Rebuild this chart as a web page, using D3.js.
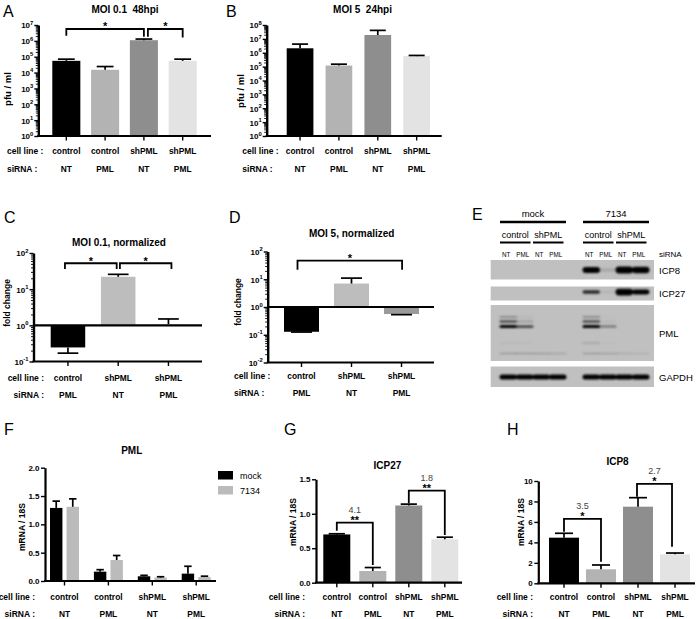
<!DOCTYPE html>
<html><head><meta charset="utf-8">
<script src="https://cdn.jsdelivr.net/npm/d3@7"></script>
<style>
body{margin:0;background:#fff;}
svg{display:block;}
text{white-space:pre;}
</style></head><body>
<svg id="fig" width="696" height="619"></svg>
<script>
// ---------------- DATA ----------------
const cellLines4 = ["control", "control", "shPML", "shPML"];
const siRNA4 = ["NT", "PML", "NT", "PML"];
const cellLines3 = ["control", "shPML", "shPML"];
const siRNA3 = ["PML", "NT", "PML"];

// A: MOI 0.1 48hpi (pfu/ml), mean and top of error bar
const aValues = [5.5e4, 1.5e4, 1.1e6, 5.5e4];
const aErrTop = [7.0e4, 2.4e4, 1.3e6, 7.0e4];
// B: MOI 5 24hpi
const bValues = [2.1e6, 1.2e5, 1.9e7, 5.7e5];
const bErrTop = [4.2e6, 1.5e5, 4.1e7, 6.4e5];
// C: MOI 0.1 normalized (fold change)
const cValues = [0.245, 22, 1.07];
const cErrEnd = [0.17, 25.7, 1.5];
// D: MOI 5 normalized
const dValues = [0.128, 7, 0.56];
const dErrEnd = [0.125, 11, 0.53];
// F: PML mRNA / 18S
const fSeries = ["mock", "7134"];
const fMock = [1.29, 0.165, 0.083, 0.13];
const fMockErr = [1.41, 0.2, 0.1, 0.26];
const f7134 = [1.31, 0.37, 0.06, 0.07];
const f7134Err = [1.45, 0.45, 0.075, 0.085];
// G: ICP27 mRNA / 18S
const gValues = [0.70, 0.17, 1.12, 0.63];
const gErrTop = [0.71, 0.22, 1.14, 0.66];
// H: ICP8 mRNA / 18S
const hValues = [4.46, 1.37, 7.49, 2.83];
const hErrTop = [4.89, 1.79, 8.37, 2.96];
// fold-change annotations
const gFold = ["4.1", "1.8"];
const gSig = ["**", "**"];
const hFold = ["3.5", "2.7"];
const hSig = ["*", "*"];

// E: western blot
const blotInfection = ["mock", "7134"];
const blotCell = ["control", "shPML"];
const blotSiRNA = ["NT", "PML"];
const blotRows = ["ICP8", "ICP27", "PML", "GAPDH"];
const bandICP8 = [0, 0, 0, 0, 1.0, 0.12, 1.15, 1.05];
const bandICP27 = [0, 0, 0, 0, 0.8, 0.06, 1.5, 1.1];
const bandPML1 = [0.55, 0.1, 0, 0, 0.55, 0.05, 0, 0];
const bandPML2 = [0.75, 0.25, 0, 0, 0.75, 0.08, 0, 0];
const bandPML3 = [1.0, 0.75, 0, 0, 1.0, 0.45, 0, 0];
const bandPML4 = [0.08, 0.06, 0, 0, 0.25, 0.03, 0, 0];
const bandPML5 = [0.3, 0.3, 0.28, 0.22, 0.3, 0.25, 0.18, 0.12];
const bandGAPDH = [1, 1, 1, 1, 1, 1, 1, 1];

// ---------------- STYLE ----------------
const FONT = "'Liberation Sans', Arial, Helvetica, sans-serif";
const PAL4 = ["#000000", "#b3b3b3", "#8e8e8e", "#e3e3e3"];
const PALC = ["#000000", "#bdbdbd", "#f0f0f0"];
const PALD = ["#000000", "#bdbdbd", "#9a9a9a"];
const PALF = ["#000000", "#bbbbbb"];

const svg = d3.select("#fig").attr("font-family", FONT);
svg.append("defs").append("filter").attr("id", "blur")
  .attr("x", "-20%").attr("y", "-50%").attr("width", "140%").attr("height", "200%")
  .append("feGaussianBlur").attr("stdDeviation", 0.9);

function txt(g, x, y, s, o = {}) {
  return g.append("text").attr("x", x).attr("y", y)
    .attr("text-anchor", o.anchor || "middle")
    .attr("font-size", o.size || 9)
    .attr("font-weight", o.weight || "bold")
    .attr("fill", o.fill || "#000")
    .attr("transform", o.rotate ? `rotate(-90,${x},${y})` : null)
    .text(s);
}

function panelLetter(x, y, s) { txt(svg, x, y, s, {anchor: "start", size: 16, weight: "normal"}); }

function logYAxis(g, y, ax, lo, hi) {
  const majors = d3.range(lo, hi + 1).map(k => Math.pow(10, k));
  const minors = d3.range(lo, hi).flatMap(k => d3.range(2, 10).map(m => m * Math.pow(10, k)));
  const gm = g.append("g").attr("transform", `translate(${ax},0)`)
    .call(d3.axisLeft(y).tickValues(minors).tickSize(2.5).tickSizeOuter(0).tickFormat(""));
  gm.select(".domain").remove();
  gm.selectAll(".tick line").attr("stroke", "#000").attr("stroke-width", 0.9);
  const gM = g.append("g").attr("transform", `translate(${ax},0)`)
    .call(d3.axisLeft(y).tickValues(majors).tickSize(4).tickSizeOuter(0).tickFormat(""));
  gM.select(".domain").attr("stroke", "#000").attr("stroke-width", 2.4);
  gM.selectAll(".tick line").attr("stroke", "#000").attr("stroke-width", 1.4);
  gM.selectAll(".tick").each(function (d) {
    const e = Math.round(Math.log10(d));
    const t = d3.select(this).append("text").attr("x", -5).attr("dy", "0.36em")
      .attr("text-anchor", "end").attr("font-size", 8).attr("font-weight", "bold").attr("fill", "#000");
    t.append("tspan").text("10");
    t.append("tspan").attr("dy", -3.7).attr("font-size", 5.8).text(e);
  });
}

function linYAxis(g, y, ax, ticks, fmt) {
  const gA = g.append("g").attr("transform", `translate(${ax},0)`)
    .call(d3.axisLeft(y).tickValues(ticks).tickSize(4).tickSizeOuter(0).tickPadding(1.5).tickFormat(d3.format(fmt)));
  gA.select(".domain").attr("stroke", "#000").attr("stroke-width", 2.2);
  gA.selectAll(".tick line").attr("stroke", "#000").attr("stroke-width", 1.4);
  gA.selectAll(".tick text").attr("fill", "#000").attr("font-size", 8).attr("font-weight", "bold").attr("font-family", FONT);
}

function xAxis(g, x, ax, aend, yb) {
  const gx = g.append("g").attr("transform", `translate(0,${yb})`)
    .call(d3.axisBottom(x).tickSize(4.5).tickSizeOuter(0).tickFormat(""));
  gx.select(".domain").remove();
  gx.selectAll(".tick line").attr("stroke", "#000").attr("stroke-width", 1.4);
  g.append("line").attr("x1", ax - 1).attr("x2", aend).attr("y1", yb).attr("y2", yb)
    .attr("stroke", "#000").attr("stroke-width", 2.2);
}

function catLabels(g, xc, cats, sir, rows, lead) {
  txt(g, lead.x, rows[0], "cell line :", {anchor: lead.anchor, size: 8.5});
  txt(g, lead.x, rows[1], "siRNA :", {anchor: lead.anchor, size: 8.5});
  g.selectAll(null).data(cats).join("text")
    .attr("x", (d, i) => xc(i)).attr("y", rows[0]).attr("text-anchor", "middle")
    .attr("font-size", 8.4).attr("font-weight", "bold").text(d => d);
  g.selectAll(null).data(sir).join("text")
    .attr("x", (d, i) => xc(i)).attr("y", rows[1]).attr("text-anchor", "middle")
    .attr("font-size", 8.4).attr("font-weight", "bold").text(d => d);
}

function errorBars(g, xs, w, y, vals, ends, capFrac) {
  vals.forEach((v, i) => {
    const cx = xs(i), cw = w * capFrac;
    g.append("line").attr("x1", cx).attr("x2", cx).attr("y1", y(v)).attr("y2", y(ends[i]))
      .attr("stroke", "#000").attr("stroke-width", 1.7);
    g.append("line").attr("x1", cx - cw / 2).attr("x2", cx + cw / 2).attr("y1", y(ends[i])).attr("y2", y(ends[i]))
      .attr("stroke", "#000").attr("stroke-width", 1.7);
  });
}

function bracket(g, xc, y, b) {
  const x1 = xc(b.i) + (b.dxi || 0), x2 = xc(b.j) + (b.dxj || 0);
  const yt = y(b.top);
  g.append("path").attr("d", `M${x1},${y(b.botL)}V${yt}H${x2}V${y(b.botR)}`)
    .attr("fill", "none").attr("stroke", "#000").attr("stroke-width", 1.8);
  const mx = (x1 + x2) / 2;
  txt(g, mx, yt + 1.5, b.sig, {size: 11});
  if (b.num) txt(g, mx, yt - 9.5, b.num, {size: 9, weight: "normal", fill: "#444"});
}

function barPanel(c) {
  const g = svg.append("g");
  const y = c.log ? d3.scaleLog().domain(c.domain).range([c.yBot, c.yTop])
                  : d3.scaleLinear().domain(c.domain).range([c.yBot, c.yTop]);
  const x = d3.scaleBand().domain(d3.range(c.values.length)).range(c.barRange).paddingInner(c.pad);
  const xc = i => x(i) + x.bandwidth() / 2;
  const base = c.base;
  g.selectAll(null).data(c.values).join("rect")
    .attr("x", (d, i) => x(i)).attr("width", x.bandwidth())
    .attr("y", d => y(Math.max(d, base))).attr("height", d => Math.abs(y(d) - y(base)))
    .attr("fill", (d, i) => c.colors[i]);
  errorBars(g, xc, x.bandwidth(), y, c.values, c.errs, 0.6);
  if (c.log) logYAxis(g, y, c.axisX, c.dec[0], c.dec[1]);
  else linYAxis(g, y, c.axisX, c.ticks, c.fmt);
  xAxis(g, x, c.axisX, c.axisEnd, c.yBot);
  if (c.ref !== undefined) {
    g.append("line").attr("x1", c.axisX).attr("x2", c.axisEnd).attr("y1", y(c.ref)).attr("y2", y(c.ref))
      .attr("stroke", "#000").attr("stroke-width", 2.2);
  }
  (c.brackets || []).forEach(b => bracket(g, xc, y, b));
  catLabels(g, xc, c.cats, c.sir, c.rows, c.lead);
  txt(g, c.title[1], c.title[2], c.title[0], {size: 10});
  txt(g, c.ylab[1], c.ylab[2], c.ylab[0], {size: c.ylab[3], rotate: true});
}

// ---------- Panel A ----------
panelLetter(3, 16.5, "A");
barPanel({
  log: true, domain: [1, 1e7], dec: [0, 7], yTop: 25, yBot: 136, axisX: 38.3, axisEnd: 211,
  barRange: [52.3, 196.7], pad: 0.277, base: 1,
  values: aValues, errs: aErrTop, colors: PAL4, cats: cellLines4, sir: siRNA4,
  rows: [153.5, 171.5], lead: {x: 7, anchor: "start"},
  title: ["MOI 0.1  48hpi", 125, 12.5], ylab: ["pfu / ml", 11, 89, 9.5],
  brackets: [
    {i: 0, j: 2, top: 5.6e6, botL: 2.1e6, botR: 1.8e6, sig: "*"},
    {i: 2, j: 3, dxi: 4, top: 5.6e6, botL: 1.8e6, botR: 1.6e6, sig: "*"}
  ]
});

// ---------- Panel B ----------
panelLetter(226, 16.5, "B");
barPanel({
  log: true, domain: [1, 1e8], dec: [0, 8], yTop: 25, yBot: 136, axisX: 266.7, axisEnd: 441.7,
  barRange: [286.7, 430], pad: 0.313, base: 1,
  values: bValues, errs: bErrTop, colors: PAL4, cats: cellLines4, sir: siRNA4,
  rows: [153.5, 171.5], lead: {x: 242.3, anchor: "start"},
  title: ["MOI 5  24hpi", 362.5, 12.5], ylab: ["pfu / ml", 243.5, 91, 9.5]
});

// ---------- Panel C ----------
panelLetter(4, 223, "C");
barPanel({
  log: true, domain: [0.1, 100], dec: [-1, 2], yTop: 253, yBot: 361.5, axisX: 33.5, axisEnd: 202,
  barRange: [50.7, 185.7], pad: 0.313, base: 1, ref: 1,
  values: cValues, errs: cErrEnd, colors: PALC, cats: cellLines3, sir: siRNA3,
  rows: [381, 397.5], lead: {x: 44, anchor: "end"},
  title: ["MOI 0.1, normalized", 119, 246], ylab: ["fold change", 10, 303, 8.5],
  brackets: [
    {i: 0, j: 1, dxi: -3, dxj: -1.5, top: 52, botL: 36, botR: 36, sig: "*"},
    {i: 1, j: 2, dxi: 1.7, dxj: 3, top: 52, botL: 36, botR: 36, sig: "*"}
  ]
});

// ---------- Panel D ----------
panelLetter(229, 223, "D");
barPanel({
  log: true, domain: [0.01, 100], dec: [-2, 2], yTop: 251.5, yBot: 362.5, axisX: 267.7, axisEnd: 434,
  barRange: [284, 419], pad: 0.3, base: 1, ref: 1,
  values: dValues, errs: dErrEnd, colors: PALD, cats: cellLines3, sir: siRNA3,
  rows: [379, 395.5], lead: {x: 234, anchor: "start"},
  title: ["MOI 5, normalized", 351.7, 237], ylab: ["fold change", 240.5, 302, 8.5],
  brackets: [
    {i: 0, j: 2, dxi: -4, dxj: 0.6, top: 47, botL: 22, botR: 22, sig: "*"}
  ]
});

// ---------- Panel E (western blot) ----------
(function () {
  const g = svg.append("g");
  panelLetter(472, 220, "E");
  const outer = d3.scaleBand().domain(blotInfection).range([500, 649]).paddingInner(0.205);
  const lanes = d3.range(8);
  const laneX = i => outer(blotInfection[Math.floor(i / 4)]) + (i % 4) * outer.bandwidth() / 4;
  const lw = outer.bandwidth() / 4;
  const laneC = i => laneX(i) + lw / 2;
  blotInfection.forEach(inf => {
    const x0 = outer(inf), w = outer.bandwidth();
    txt(g, x0 + w / 2, 216.5, inf, {size: 9.5, weight: "normal"});
    g.append("line").attr("x1", x0).attr("x2", x0 + w).attr("y1", 222).attr("y2", 222)
      .attr("stroke", "#000").attr("stroke-width", 2.4);
    blotCell.forEach((cl, k) => {
      const a = x0 + k * w / 2, b = a + w / 2 - 2.5;
      txt(g, (a + b) / 2, 237.5, cl, {size: 9, weight: "normal"});
      g.append("line").attr("x1", a).attr("x2", b).attr("y1", 242.5).attr("y2", 242.5)
        .attr("stroke", "#000").attr("stroke-width", 2);
    });
  });
  lanes.forEach(i => txt(g, laneC(i) - 2, 257, blotSiRNA[i % 2], {size: 6.3, weight: "normal"}));
  txt(g, 659, 257, "siRNA", {anchor: "start", size: 8, weight: "normal"});
  const rowBox = {ICP8: [260, 279.5], ICP27: [286.5, 300.5], PML: [305, 361], GAPDH: [366.5, 387]};
  const rowLab = {ICP8: 273.5, ICP27: 297, PML: 337, GAPDH: 380.5};
  blotRows.forEach(r => {
    g.append("rect").attr("x", 490.7).attr("y", rowBox[r][0]).attr("width", 163.3)
      .attr("height", rowBox[r][1] - rowBox[r][0]).attr("fill", "#c0c0c0");
    txt(g, 659, rowLab[r], r, {anchor: "start", size: 9.5, weight: "normal"});
  });
  const bands = [
    {vals: bandICP8, yc: 270, h: 6},
    {vals: bandICP27, yc: 292, h: 4.5},
    {vals: bandPML1, yc: 317, h: 2},
    {vals: bandPML2, yc: 321.5, h: 2.5},
    {vals: bandPML3, yc: 326.5, h: 3},
    {vals: bandPML4, yc: 343, h: 2},
    {vals: bandPML5, yc: 353.5, h: 2},
    {vals: bandGAPDH, yc: 377, h: 5}
  ];
  const gb = g.append("g").attr("filter", "url(#blur)");
  bands.forEach(b => {
    b.vals.forEach((v, i) => {
      if (v <= 0) return;
      const h = b.h * Math.max(0.6, v);
      gb.append("rect").attr("x", laneX(i) - 0.5).attr("width", lw + 1)
        .attr("y", b.yc - h / 2).attr("height", h).attr("rx", h / 2)
        .attr("fill", "#000").attr("opacity", Math.min(1, v));
    });
  });
})();

// ---------- Panel F ----------
(function () {
  panelLetter(4, 435, "F");
  const g = svg.append("g");
  const y = d3.scaleLinear().domain([0, 2]).range([581, 467.7]);
  const x0 = d3.scaleBand().domain(d3.range(4)).range([50, 210.7]).paddingInner(0.34);
  const x1 = d3.scaleBand().domain(fSeries).range([0, x0.bandwidth()]).paddingInner(0.25);
  const series = [[fMock, fMockErr], [f7134, f7134Err]];
  series.forEach(([vals, errs], s) => {
    const xs = i => x0(i) + x1(fSeries[s]);
    g.selectAll(null).data(vals).join("rect")
      .attr("x", (d, i) => xs(i)).attr("width", x1.bandwidth())
      .attr("y", d => y(d)).attr("height", d => y(0) - y(d)).attr("fill", PALF[s]);
    errorBars(g, i => xs(i) + x1.bandwidth() / 2, x1.bandwidth(), y, vals, errs, 0.6);
  });
  linYAxis(g, y, 45, [0, 0.5, 1, 1.5, 2], ".1f");
  xAxis(g, x0, 45, 216, 581);
  catLabels(g, i => x0(i) + x0.bandwidth() / 2, cellLines4, siRNA4, [600, 616.5], {x: 35, anchor: "end"});
  txt(g, 131.7, 453.5, "PML", {size: 10});
  txt(g, 24.5, 527, "mRNA / 18S", {size: 8.5, rotate: true});
  fSeries.forEach((s, k) => {
    g.append("rect").attr("x", 218).attr("y", 471 + k * 15).attr("width", 15).attr("height", 8.5).attr("fill", PALF[k]);
    txt(g, 240, 478.5 + k * 15, s, {anchor: "start", size: 9, weight: "normal"});
  });
})();

// ---------- Panel G ----------
panelLetter(284, 435, "G");
barPanel({
  log: false, domain: [0, 1.5], ticks: [0, 0.5, 1, 1.5], fmt: ".1f", yTop: 479.3, yBot: 582.7,
  axisX: 316, axisEnd: 462, barRange: [323.3, 458.3], pad: 0.25, base: 0,
  values: gValues, errs: gErrTop, colors: PAL4, cats: cellLines4, sir: siRNA4,
  rows: [600, 616.5], lead: {x: 305, anchor: "end"},
  title: ["ICP27", 387.5, 469], ylab: ["mRNA / 18S", 296, 522, 8.5],
  brackets: [
    {i: 0, j: 1, top: 0.871, botL: 0.754, botR: 0.257, sig: gSig[0], num: gFold[0]},
    {i: 2, j: 3, top: 1.335, botL: 1.152, botR: 0.692, sig: gSig[1], num: gFold[1]}
  ]
});

// ---------- Panel H ----------
panelLetter(507, 435, "H");
barPanel({
  log: false, domain: [0, 10], ticks: [0, 2, 4, 6, 8, 10], fmt: "d", yTop: 481, yBot: 583.3,
  axisX: 538.3, axisEnd: 695, barRange: [549, 690], pad: 0.19, base: 0,
  values: hValues, errs: hErrTop, colors: PAL4, cats: cellLines4, sir: siRNA4,
  rows: [600, 616.5], lead: {x: 533, anchor: "end"},
  title: ["ICP8", 617.5, 465], ylab: ["mRNA / 18S", 524, 522, 8.5],
  brackets: [
    {i: 0, j: 1, top: 6.29, botL: 5.04, botR: 2.11, sig: hSig[0], num: hFold[0]},
    {i: 2, j: 3, dxi: -1, dxj: -3, top: 9.71, botL: 8.47, botR: 3.58, sig: hSig[1], num: hFold[1]}
  ]
});
</script>
</body></html>
